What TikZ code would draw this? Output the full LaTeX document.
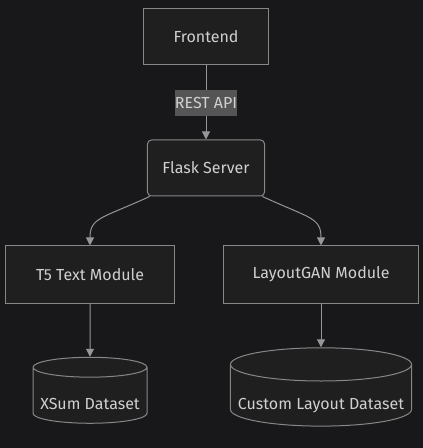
\documentclass[tikz,border=0pt]{standalone}
\usepackage{fontspec}
\setmainfont{Fira Sans}
\usepackage{tikz}
\usetikzlibrary{arrows.meta}
\usetikzlibrary{shapes.geometric}
\definecolor{bgdark}{RGB}{24,24,27}
\definecolor{boxfill}{RGB}{31,31,32}
\definecolor{boxline}{RGB}{135,135,135}
\definecolor{edgeline}{RGB}{150,150,150}
\definecolor{labelfill}{RGB}{85,85,85}
\definecolor{textgrey}{RGB}{208,208,208}
\tikzset{every picture/.style={line width=0.75pt}}

\begin{document}
\begin{tikzpicture}[x=0.75pt,y=0.75pt,yscale=-1,xscale=1,
  box/.style={draw=boxline,fill=boxfill,text=textgrey,font=\fontsize{12}{14}\selectfont,inner sep=0pt},
  roundbox/.style={box,rounded corners=3pt},
  dbstore/.style={box,cylinder,shape border rotate=90,shape aspect=0.2,text height=21pt,text depth=0pt},
  flow/.style={draw=edgeline,-{Triangle[length=6pt,width=6pt]}}]
%set diagram size: 423 x 448
\fill[bgdark] (0,0) rectangle (423,448);

%Rectangle: Frontend
\node [box,minimum width=93.8pt,minimum height=41.3pt] (frontend) at (206,36.5) {Frontend};
%Rounded Rect: Flask Server
\node [roundbox,minimum width=87.8pt,minimum height=42pt] (flask) at (206,168) {Flask Server};
%Rectangle: T5 Text Module
\node [box,minimum width=126.8pt,minimum height=42.8pt] (t5) at (90,274.5) {T5 Text Module};
%Rectangle: LayoutGAN Module
\node [box,minimum width=146.3pt,minimum height=42.8pt] (layoutgan) at (321,274.5) {LayoutGAN Module};
%Cylinder: XSum Dataset
\node [dbstore,minimum width=85.5pt,minimum height=49.5pt] (xsum) at (90,395.5) {XSum Dataset};
%Cylinder: Custom Layout Dataset
\node [dbstore,minimum width=135.8pt,minimum height=49.5pt] (custom) at (321,395.5) {Custom Layout Dataset};

%Straight Lines
\draw [flow] (frontend) -- (flask);
% Text Node
\node [fill=labelfill,text=textgrey,font=\fontsize{12}{14}\selectfont,inner sep=0pt,minimum width=45.8pt,minimum height=19.5pt] (restapi) at (206,103) {REST API};
%Curve Lines
\draw [flow] ([xshift=2pt]flask.south west) .. controls +(-48,22) and +(0,-28) .. (t5.north);
\draw [flow] ([xshift=-2pt]flask.south east) .. controls +(48,22) and +(0,-28) .. (layoutgan.north);
%Straight Lines
\draw [flow] (t5) -- (xsum);
\draw [flow] (layoutgan) -- (custom);

\end{tikzpicture}
\end{document}
